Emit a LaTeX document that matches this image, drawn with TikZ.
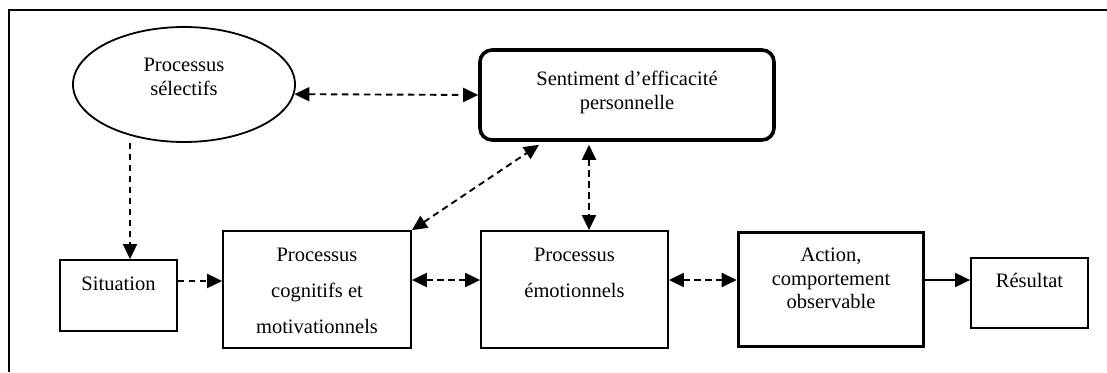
\documentclass[tikz,border=0pt]{standalone}
\usepackage{fontspec}
\setmainfont{Liberation Serif}
\usetikzlibrary{arrows.meta,calc,shapes.geometric}
\newcommand{\bxtext}[4]{\parbox[t][#2][t]{#1}{\centering\rule{0pt}{#3}#4}}
\begin{document}
\begin{tikzpicture}[x=1pt,y=-1pt,
  box/.style={draw,line width=1.8pt,inner sep=0pt,rectangle},
  thickbox/.style={box,line width=3.6pt},
  wide/.style={font=\fontsize{20.5pt}{36pt}\selectfont},
  tight/.style={font=\fontsize{20.5pt}{24pt}\selectfont},
  tip/.style={},
  conn/.style={line width=1.9pt,dash pattern=on 6.5pt off 4.5pt,-{Triangle[length=15pt,width=14pt]}},
  both/.style={conn,{Triangle[length=15pt,width=14pt]}-{Triangle[length=15pt,width=14pt]}},
  solidconn/.style={line width=1.9pt,-{Triangle[length=15pt,width=14pt]}}]
\useasboundingbox (0,0) rectangle (1107,372);
\draw[line width=2.4pt] (9,372) -- (9,10) -- (1107,10);

\node[draw,ellipse,line width=1.8pt,minimum width=222pt,minimum height=115pt,inner sep=0pt,tight] (ell) at (184,84.5)
  {\parbox[c][60pt][t]{150pt}{\centering\rule{0pt}{16.5pt}Processus\\sélectifs}};
\node[box,rounded corners=12pt,line width=3.6pt,minimum width=294pt,minimum height=90pt,tight] (sent) at (627,95)
  {\bxtext{290pt}{90pt}{35pt}{Sentiment d’efficacité\\personnelle}};
\node[box,minimum width=117pt,minimum height=71pt,tight] (sit) at (118.5,295.5)
  {\bxtext{113pt}{71pt}{30pt}{Situation}};
\node[box,minimum width=188pt,minimum height=117pt,wide] (cog) at (317,289.5)
  {\bxtext{184pt}{117pt}{30pt}{Processus\\cognitifs et\\motivationnels}};
\node[box,minimum width=187pt,minimum height=117pt,wide] (emo) at (574.5,289.5)
  {\bxtext{183pt}{117pt}{30pt}{Processus\\émotionnels}};
\node[thickbox,minimum width=185pt,minimum height=114pt,font=\fontsize{20.5pt}{23.5pt}\selectfont] (act) at (831,289.5)
  {\bxtext{181pt}{114pt}{29pt}{Action,\\comportement\\observable}};
\node[box,minimum width=117pt,minimum height=70pt,tight] (res) at (1029.5,293)
  {\bxtext{113pt}{70pt}{29pt}{Résultat}};

\draw[both] (ell.-5.5) -- (sent.west);
\coordinate (e1) at ($(ell.south)+(-54,0)$);
\draw[conn] (e1) -- (e1 |- sit.north);
\coordinate (s1) at ([yshift=14.5pt]sit.east);
\draw[conn] (s1) -- (s1 -| cog.west);
\coordinate (c1) at ([yshift=9.5pt]cog.east);
\draw[both] (c1) -- (c1 -| emo.west);
\coordinate (m1) at ([yshift=9.5pt]emo.east);
\draw[both] (m1) -- (m1 -| act.west);
\coordinate (a1) at ([yshift=9.5pt]act.east);
\draw[solidconn] (a1) -- (a1 -| res.west);
\draw[both] (cog.north east) -- ([xshift=-88pt,yshift=-3pt]sent.south);
\coordinate (v1) at ([xshift=-38pt,yshift=-3pt]sent.south);
\draw[both] (v1) -- (v1 |- emo.north);
\end{tikzpicture}
\end{document}
